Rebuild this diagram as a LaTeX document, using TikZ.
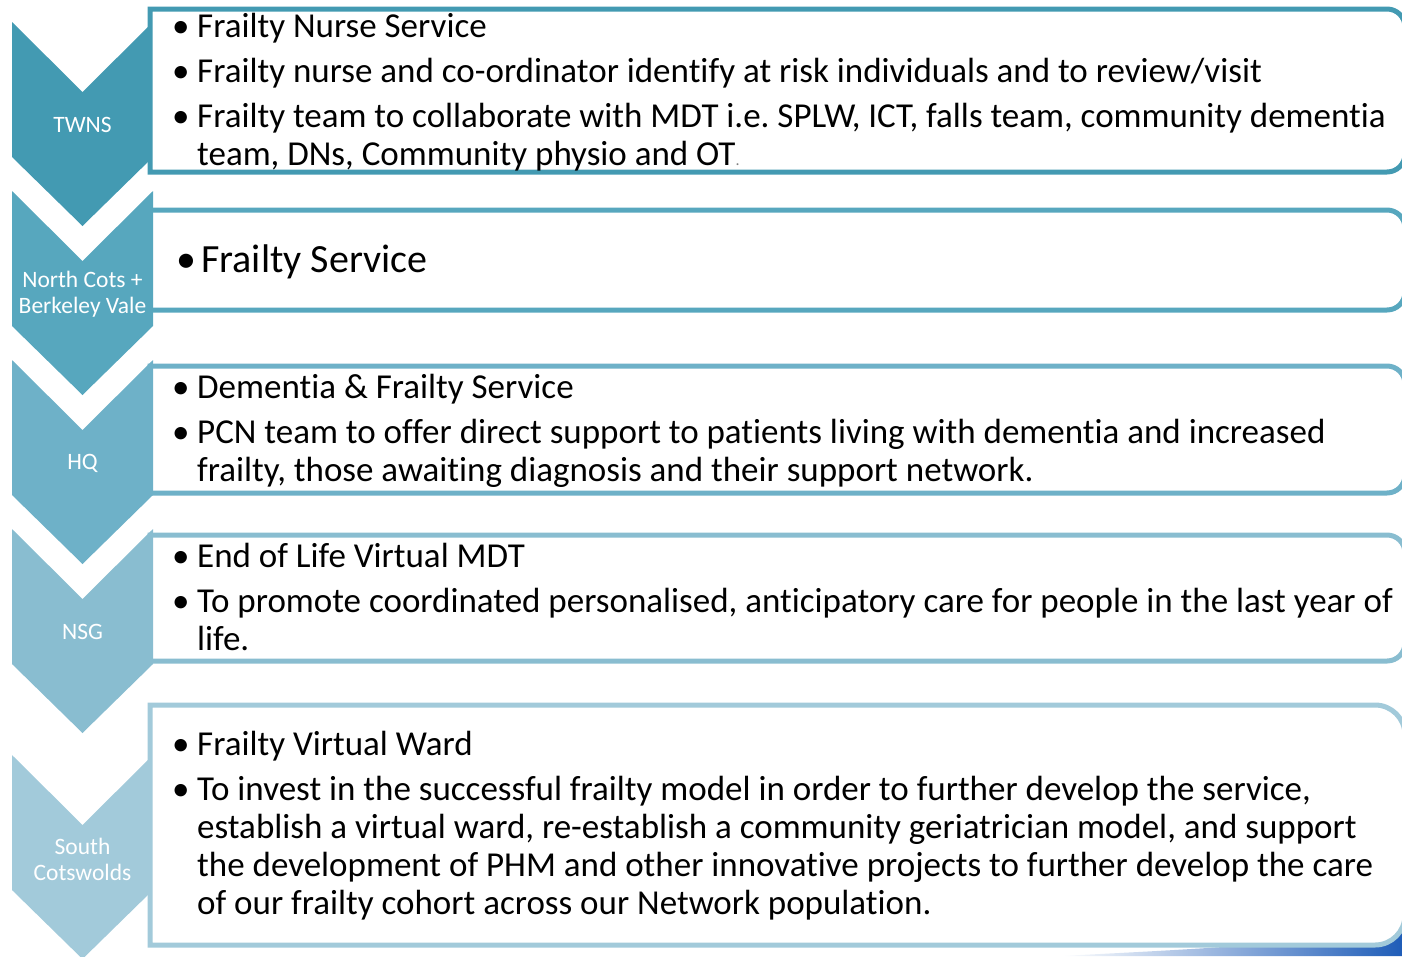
\documentclass[tikz,border=0pt]{standalone}
\usepackage{fontspec}
\setmainfont{Carlito}[Ligatures=NoCommon]

\definecolor{twnsblue}{HTML}{439AB2}
\definecolor{ncbvblue}{HTML}{57A7BE}
\definecolor{hqblue}{HTML}{6EB1C8}
\definecolor{nsgblue}{HTML}{89BDD0}
\definecolor{scblue}{HTML}{A2CADA}
\definecolor{swooshblue}{HTML}{1F5DB8}

% chevron: top of its sides, colour
\newcommand{\chevron}[2]{%
  \fill[#2] (12,-#1) -- (82.5,-#1-70) -- (153,-#1) -- (153,-#1-135)
    -- (82.5,-#1-204) -- (12,-#1-135) -- cycle;}

% panel: top, bottom, corner radius, colour
\newcommand{\panel}[4]{%
  \draw[panelline,draw=#4] (150,-#2) -- (150,-#1) -- (1405-#3,-#1)
    arc[start angle=90,end angle=0,radius=#3pt] -- (1405,-#2+#3)
    arc[start angle=0,end angle=-90,radius=#3pt] -- cycle;}

\newcommand{\itm}{\makebox[25pt][l]{\textbullet}}
\newcommand{\cnt}{\hspace*{25pt}}

\begin{document}
\frenchspacing
\begin{tikzpicture}[x=1pt,y=1pt,
    panelline/.style={line width=5pt,fill=white},
    txt/.style={anchor=base west,align=left,inner sep=0pt,
      font=\fontsize{35}{38}\selectfont},
    lbl/.style={text=white,align=center,inner sep=0pt,
      font=\fontsize{23.5}{26}\selectfont}]

  \useasboundingbox (0,0) rectangle (1402,-956);

  % swoosh at the bottom
  \shade[left color=white,right color=swooshblue]
    (1060,-956) .. controls (1220,-948) and (1330,-942) .. (1402,-926)
    -- (1402,-956) -- cycle;

  % middle panels sit behind the chevrons
  \panel{210}{310}{18}{ncbvblue}
  \panel{366}{493}{18}{hqblue}
  \panel{535}{661}{18}{nsgblue}

  \chevron{22}{twnsblue}
  \chevron{191}{ncbvblue}
  \chevron{360}{hqblue}
  \chevron{529}{nsgblue}
  \chevron{755}{scblue}

  \panel{9}{172}{18}{twnsblue}
  \panel{705}{945}{30}{scblue}

  % chevron labels
  \node[lbl] (twns) at (82.5,-125) {TWNS};
  \node[lbl] (ncbv) at (82.5,-294) {North Cots +\\Berkeley Vale};
  \node[lbl] (hq)   at (82.5,-463) {HQ};
  \node[lbl] (nsg)  at (82.5,-632) {NSG};
  \node[lbl] (sc)   at (82.5,-859) {South\\Cotswolds};

  % panel texts, placed by the baseline of their last line
  \node[txt] (twnsText) at (172,-165) {\itm Frailty Nurse Service\\[7pt]
    \itm Frailty nurse and co-ordinator identify at risk individuals and to review/visit\\[7pt]
    \itm Frailty team to collaborate with MDT i.e. SPLW, ICT, falls team, community dementia\\
    \cnt team, DNs, Community physio and OT{\fontsize{16}{16}\selectfont\color{gray}.}};
  \node[txt,font=\fontsize{40}{44}\selectfont] (ncbvText) at (176,-272)
    {\itm Frailty Service};
  \node[txt] (hqText) at (172,-481) {\itm Dementia \& Frailty Service\\[7pt]
    \itm PCN team to offer direct support to patients living with dementia and increased\\
    \cnt frailty, those awaiting diagnosis and their support network.};
  \node[txt] (nsgText) at (172,-650) {\itm End of Life Virtual MDT\\[7pt]
    \itm To promote coordinated personalised, anticipatory care for people in the last year of\\
    \cnt life.};
  \node[txt] (scText) at (172,-914) {\itm Frailty Virtual Ward\\[7pt]
    \itm To invest in the successful frailty model in order to further develop the service,\\
    \cnt establish a virtual ward, re-establish a community geriatrician model, and support\\
    \cnt the development of PHM and other innovative projects to further develop the care\\
    \cnt of our frailty cohort across our Network population.};

\end{tikzpicture}
\end{document}
